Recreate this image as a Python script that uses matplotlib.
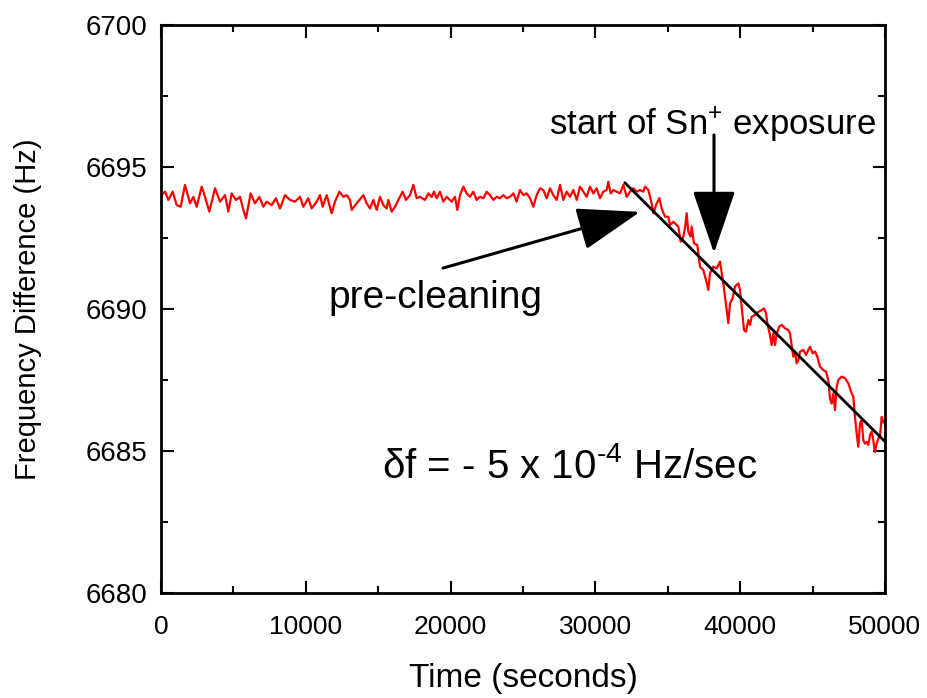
import matplotlib
matplotlib.use("Agg")
import matplotlib.pyplot as plt
from matplotlib.ticker import MultipleLocator
from matplotlib.patches import FancyArrowPatch

plt.rcParams['font.family'] = ['Liberation Sans', 'DejaVu Sans']
plt.rcParams['mathtext.fontset'] = 'custom'
plt.rcParams['mathtext.rm'] = 'Liberation Sans'
plt.rcParams['mathtext.it'] = 'Liberation Sans:italic'
plt.rcParams['mathtext.bf'] = 'Liberation Sans:bold'

time_s = [
    0, 276, 507, 806, 1082, 1358, 1658, 2003, 2233, 2463, 2809, 3039, 3338, 3729, 4075, 4420,
    4650, 4880, 5180, 5456, 5686, 5870, 6192, 6492, 6791, 7067, 7297, 7643, 7942, 8218, 8564,
    8909, 9254, 9600, 9830, 10175, 10405, 10750,
    10981, 11165, 11441, 11787, 12017, 12316, 12592, 12823, 13053, 13168, 13513, 13974, 14204,
    14434, 14664, 14894, 15125, 15355, 15585, 15700, 15930, 16161, 16391, 16690, 16920, 17196,
    17427, 17657, 17887, 18232, 18463, 18693, 18854, 19038, 19268, 19498, 19729, 20074, 20304,
    20465, 20649, 20880, 21110, 21340, 21570, 21800,
    22030, 22260, 22490, 22721, 22951, 23181, 23411, 23641, 23872, 24102, 24332, 24562, 24792,
    25023, 25253, 25483, 25713, 25943, 26174, 26404, 26634, 26864, 27094, 27325, 27555, 27785,
    28015, 28245, 28476, 28706, 28936, 29166, 29396, 29627, 29857, 30087, 30317, 30547, 30778,
    30893, 31054, 31238, 31468,
    31699, 31929, 32159, 32390, 32620, 32850, 33080, 33310, 33426, 33656, 33886, 34001, 34231,
    34415, 34576, 34807, 35037, 35152, 35382, 35612, 35728, 35889, 36073, 36188, 36303, 36418,
    36579, 36648, 36809, 37040, 37224, 37454, 37638, 37799, 37914, 38145, 38375, 38605, 38835,
    39065, 39181, 39296, 39480, 39641, 39871, 39986,
    40101, 40262, 40400, 40562, 40677, 40792, 41022, 41252, 41482, 41643, 41782, 41874, 42058,
    42173, 42288, 42403, 42518, 42702, 42864, 43094, 43324, 43439, 43554, 43669, 43784, 43899,
    44015, 44130, 44360, 44544, 44705, 44820, 45004, 45166, 45327, 45511, 45741, 45925, 46086,
    46201, 46317, 46432, 46547, 46662, 46777, 47007, 47237, 47467, 47698, 47813, 47928, 48043,
    48158, 48273, 48388, 48503, 48618, 48733, 48849, 48964, 49079, 49194, 49309, 49424, 49539,
    49654, 49769, 49884, 50000,
]
freq_hz = [
    6694.01, 6694.13, 6693.84, 6694.13, 6693.66, 6693.60, 6694.37, 6693.72, 6693.95, 6693.60,
    6694.31, 6693.95, 6693.43, 6694.25, 6693.78, 6694.01, 6693.43, 6694.07, 6693.84, 6693.95,
    6693.49, 6693.19, 6694.07, 6693.72, 6693.95, 6693.60, 6693.78, 6693.66, 6693.90, 6693.54,
    6694.01, 6693.84, 6693.78, 6693.95, 6693.60, 6693.90, 6693.54, 6693.78,
    6694.01, 6693.60, 6694.01, 6693.37, 6693.78, 6694.13, 6693.95, 6694.01, 6693.84, 6693.49,
    6693.72, 6694.01, 6693.72, 6693.54, 6693.84, 6693.49, 6693.95, 6693.66, 6693.54, 6693.84,
    6693.43, 6693.60, 6693.84, 6694.13, 6693.84, 6694.01, 6694.37, 6693.90, 6693.95, 6693.84,
    6694.07, 6693.95, 6694.13, 6693.90, 6694.13, 6693.78, 6693.95, 6693.78, 6693.95, 6693.49,
    6694.01, 6694.31, 6694.07, 6693.95, 6694.13, 6693.84,
    6693.95, 6693.90, 6694.13, 6694.01, 6693.84, 6693.95, 6693.90, 6694.01, 6693.90, 6693.95,
    6694.07, 6693.78, 6694.19, 6694.01, 6694.07, 6693.90, 6693.60, 6694.01, 6694.25, 6694.19,
    6693.90, 6694.25, 6694.01, 6693.84, 6694.37, 6693.84, 6694.13, 6693.95, 6694.19, 6693.84,
    6694.31, 6694.13, 6693.95, 6694.31, 6694.07, 6694.25, 6693.90, 6694.13, 6694.19, 6694.48,
    6694.07, 6694.19, 6694.13,
    6694.07, 6694.37, 6693.95, 6694.13, 6694.25, 6694.13, 6694.19, 6694.13, 6694.31, 6694.19,
    6693.72, 6693.37, 6693.72, 6693.90, 6693.54, 6693.25, 6693.25, 6692.96, 6693.07, 6692.96,
    6692.90, 6692.37, 6692.55, 6692.84, 6693.37, 6692.72, 6692.55, 6692.90, 6692.31, 6692.25,
    6691.49, 6691.37, 6691.02, 6690.67, 6691.26, 6691.49, 6691.43, 6691.67, 6690.90, 6689.96,
    6689.50, 6690.20, 6690.38, 6690.79, 6690.90, 6690.67,
    6690.08, 6689.26, 6689.20, 6689.61, 6689.44, 6689.73, 6689.79, 6689.90, 6689.96, 6690.02,
    6689.85, 6689.50, 6689.08, 6688.73, 6689.14, 6688.73, 6689.14, 6689.38, 6689.44, 6689.32,
    6689.26, 6689.14, 6688.73, 6688.32, 6688.50, 6688.09, 6688.20, 6688.50, 6688.56, 6688.38,
    6688.56, 6688.67, 6688.44, 6688.50, 6688.32, 6687.97, 6687.85, 6687.79, 6687.50, 6686.85,
    6686.67, 6687.03, 6686.44, 6687.26, 6687.50, 6687.62, 6687.56, 6687.38, 6687.03, 6686.91,
    6686.20, 6685.62, 6685.15, 6685.97, 6686.09, 6685.37, 6685.26, 6685.32, 6685.21, 6685.56,
    6685.68, 6685.37, 6684.97, 6685.26, 6685.44, 6685.50, 6686.20, 6686.03, 6685.97,
]

# ---- linear fit line ----
fit_t = [32044, 50000]
fit_f = [6694.44, 6685.33]

# ---- annotations ----
precl_text_xy = (18990, 6690.39)
precl_arrow_tail = (19475, 6691.44)
precl_arrow_tip = (33080, 6693.42)
sn_text_xy = (38052, 6696.48)
sn_arrow_tail = (38191, 6696.13)
sn_arrow_tip = (38191, 6691.97)
rate_text_xy = (28246, 6684.44)

fig = plt.figure(figsize=(9.27, 6.98), dpi=100)
ax = fig.add_axes([161/927, 1 - 593/698, (885-161)/927, (593-25)/698])

ax.plot(time_s, freq_hz, color='#ff0000', lw=1.6, zorder=2)
ax.plot(fit_t, fit_f, color='black', lw=2.0, zorder=3)

ax.set_xlim(0, 50000)
ax.set_ylim(6680, 6700)
ax.xaxis.set_major_locator(MultipleLocator(10000))
ax.xaxis.set_minor_locator(MultipleLocator(5000))
ax.yaxis.set_major_locator(MultipleLocator(5))
ax.yaxis.set_minor_locator(MultipleLocator(2.5))
ax.tick_params(which='both', direction='in', top=True, right=True, width=1.5)
ax.tick_params(which='major', length=9)
ax.tick_params(which='minor', length=5)
ax.tick_params(axis='x', which='major', labelsize=19, pad=16)
ax.tick_params(axis='y', which='major', labelsize=20, pad=10)
for s in ax.spines.values():
    s.set_linewidth(2)

ax.set_xlabel('Time (seconds)', fontsize=24, labelpad=17)
ax.set_ylabel('Frequency Difference (Hz)', fontsize=21, labelpad=31)

ax.text(*precl_text_xy, 'pre-cleaning', fontsize=28, ha='center', va='center')
ax.text(*sn_text_xy, 'start of Sn$^{+}$ exposure', fontsize=25, ha='center', va='center')
ax.text(*rate_text_xy, '\u03b4f = - 5 x 10$^{\u2010 4}$ Hz/sec', fontsize=29, ha='center', va='center')

for tail, tip in [(precl_arrow_tail, precl_arrow_tip), (sn_arrow_tail, sn_arrow_tip)]:
    arr = FancyArrowPatch(tail, tip, arrowstyle='-|>,head_length=2.2,head_width=0.75',
                          mutation_scale=18, color='black', lw=2.2, shrinkA=0, shrinkB=0)
    ax.add_patch(arr)

fig.savefig('out.png', dpi=100)
